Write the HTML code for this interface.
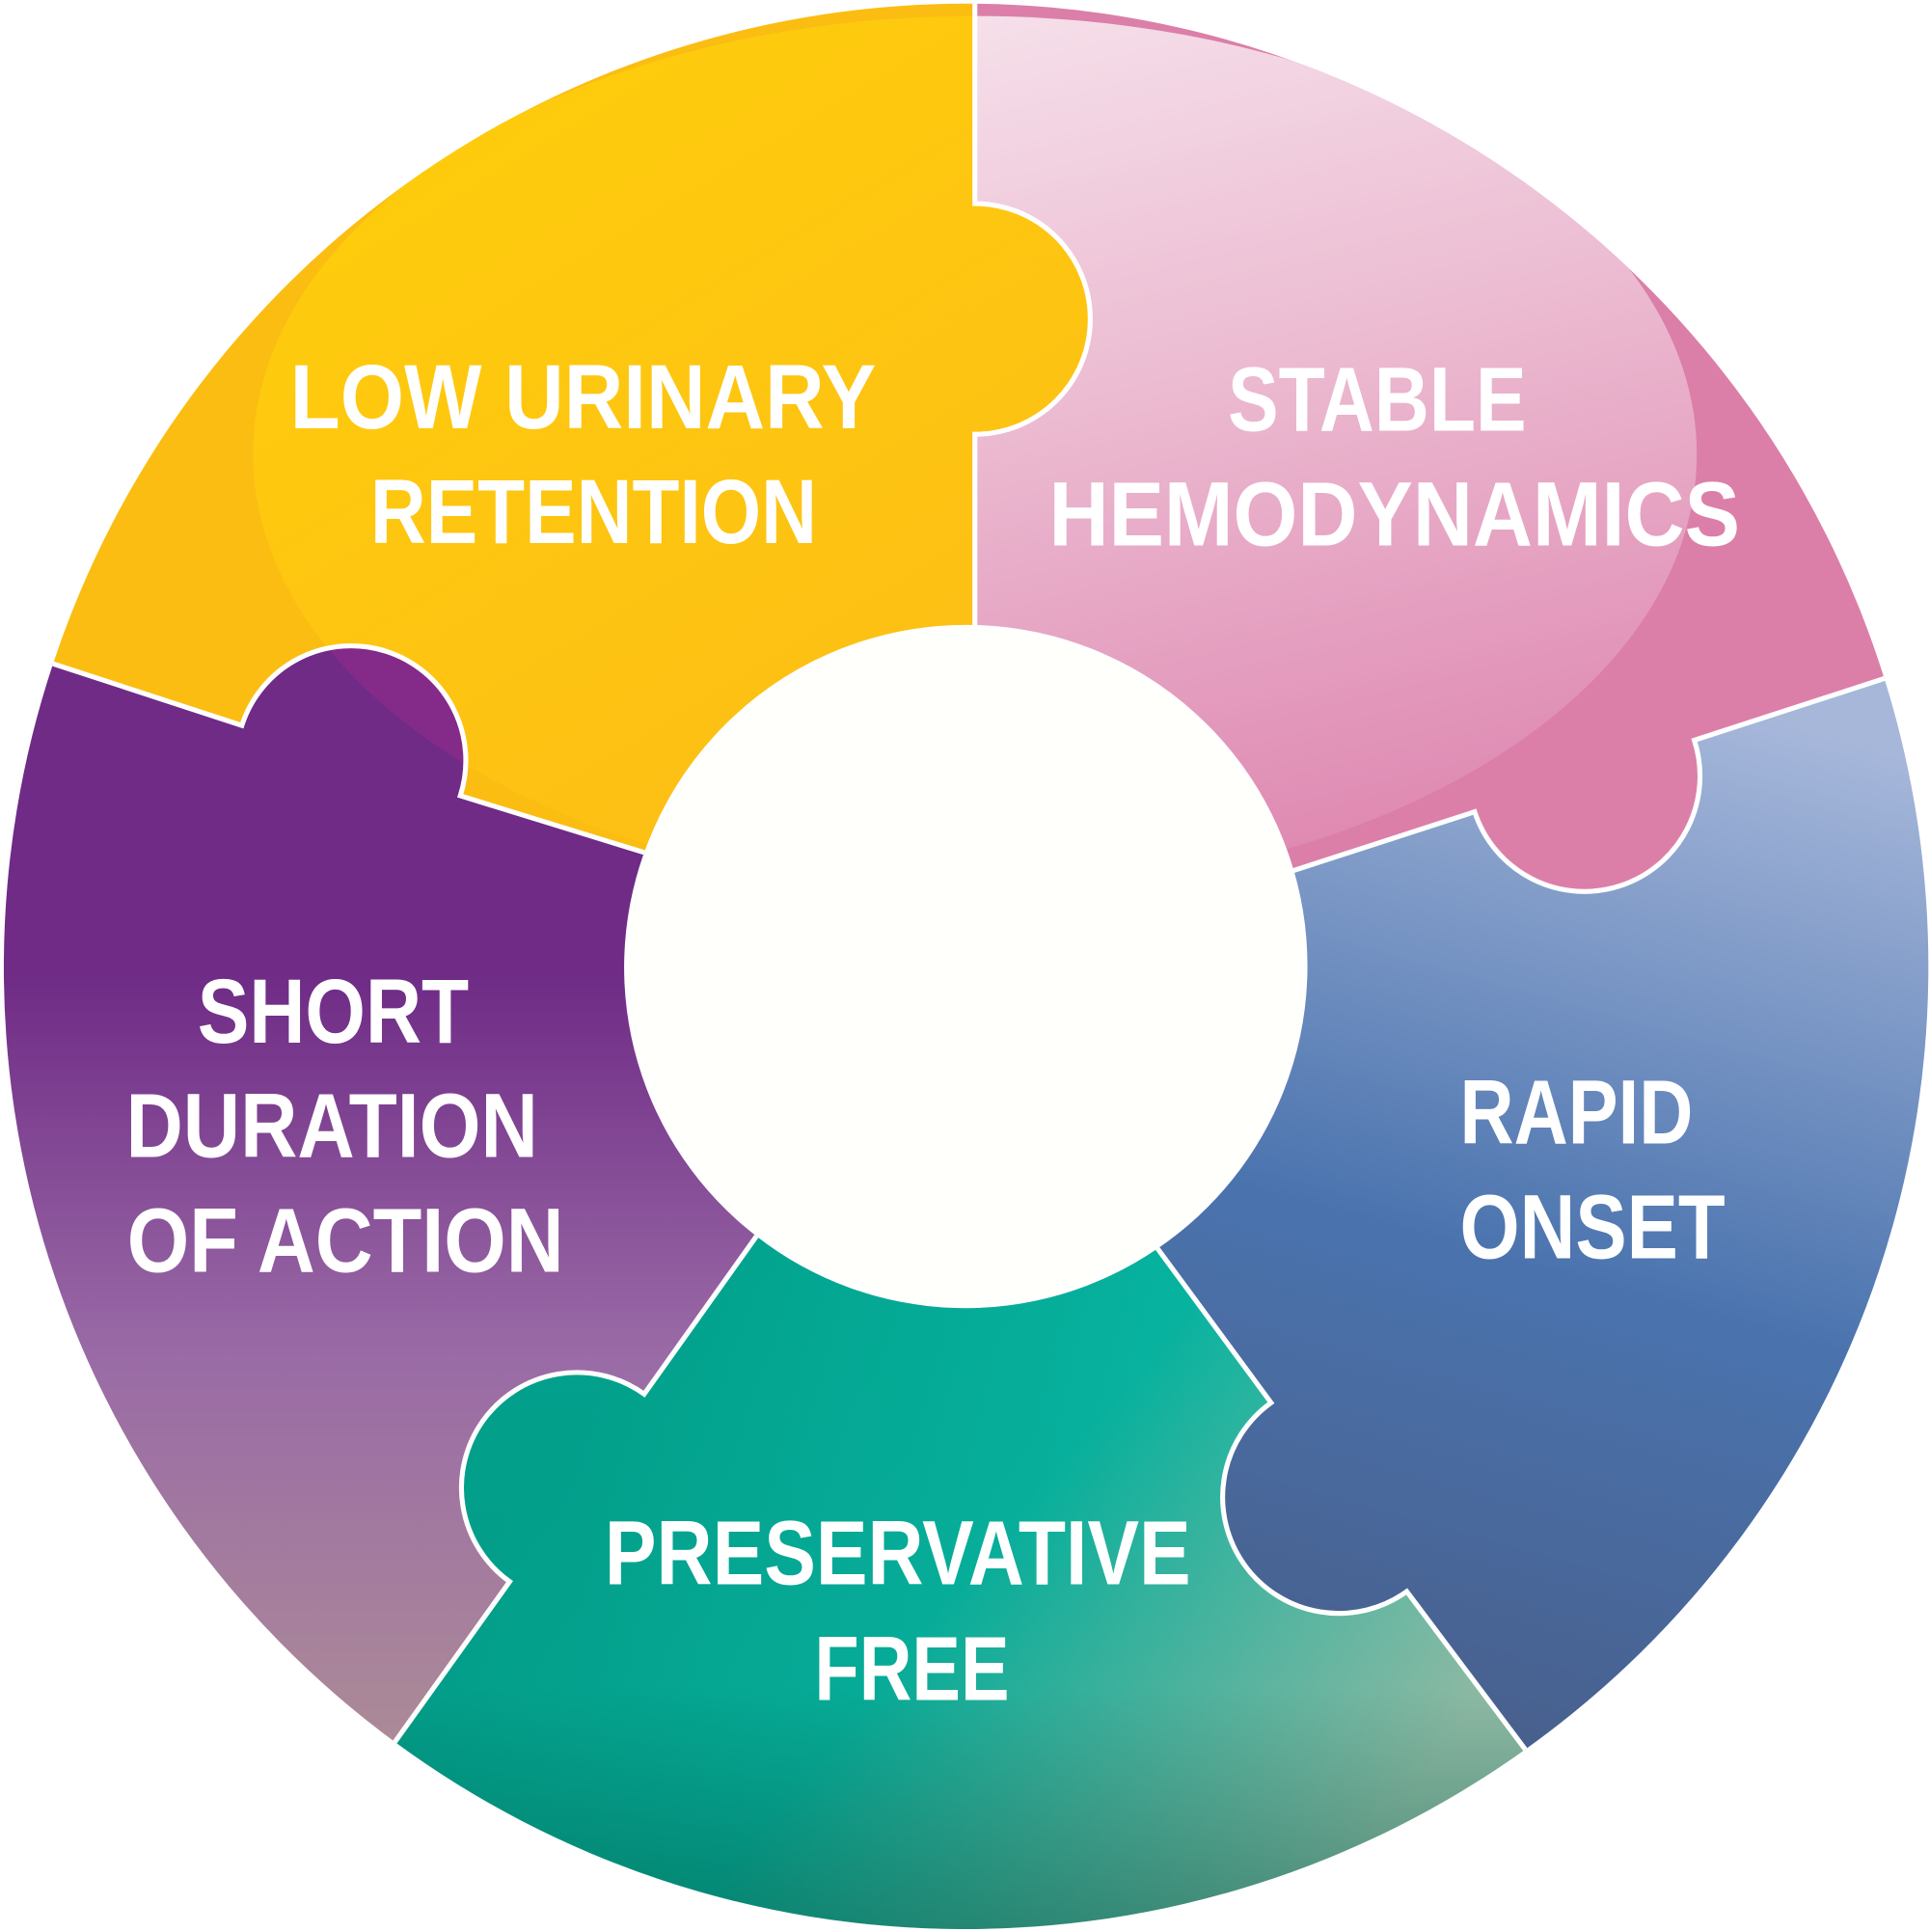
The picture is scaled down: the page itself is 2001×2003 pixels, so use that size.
<!DOCTYPE html>
<html><head><meta charset="utf-8"><style>
html,body{margin:0;padding:0;background:#fff;}
svg{display:block;}
text{font-family:"Liberation Sans",sans-serif;font-weight:bold;fill:#fff;font-size:74px;}
</style></head><body>
<svg width="2001" height="2003" viewBox="0 0 1564 1566" preserveAspectRatio="none" xmlns="http://www.w3.org/2000/svg">
<defs>
<linearGradient id="gy" x1="0" y1="0" x2="1" y2="1"><stop offset="0" stop-color="#fecf0a"/><stop offset="0.6" stop-color="#fdc014"/><stop offset="1" stop-color="#f8a41c"/></linearGradient>
<linearGradient id="gp" x1="0.2" y1="0" x2="0.6" y2="1"><stop offset="0" stop-color="#f8e9f0"/><stop offset="0.5" stop-color="#ecbcd2"/><stop offset="1" stop-color="#df8ab2"/></linearGradient>
<linearGradient id="gb" x1="0.6" y1="0" x2="0.4" y2="1"><stop offset="0" stop-color="#a6b7da"/><stop offset="0.55" stop-color="#4a73ae"/><stop offset="1" stop-color="#485f8c"/></linearGradient>
<linearGradient id="gg" x1="0.2" y1="0.2" x2="1" y2="0.6"><stop offset="0" stop-color="#02a38e"/><stop offset="0.45" stop-color="#07b4a0"/><stop offset="1" stop-color="#9fc4ae"/></linearGradient>
<linearGradient id="ggd" x1="0" y1="1000" x2="0" y2="1566" gradientUnits="userSpaceOnUse"><stop offset="0" stop-color="#005a48" stop-opacity="0"/><stop offset="0.65" stop-color="#005a48" stop-opacity="0.1"/><stop offset="1" stop-color="#005a48" stop-opacity="0.55"/></linearGradient>
<linearGradient id="gv" x1="0.5" y1="0.3" x2="0.5" y2="1"><stop offset="0" stop-color="#6f2b86"/><stop offset="0.5" stop-color="#9a6ba6"/><stop offset="1" stop-color="#ac8a97"/></linearGradient>
<clipPath id="cy"><path d="M790,3 L790,165 A90,90 0 1 1 790,352 L790,508 A275,275 0 0 0 522,691 L373,645 A90,90 0 1 0 196,588 L43,538 A780,780 0 0 1 790,3 Z"/></clipPath>
<clipPath id="cp"><path d="M790,3 A780,780 0 0 1 1527,550 L1373,600 A90,90 0 1 1 1195,658 L1047,706 A275,275 0 0 0 790,508 L790,352 A90,90 0 1 0 790,165 Z"/></clipPath>
<clipPath id="cv"><path d="M320,1412 A780,780 0 0 1 43,538 L196,588 A90,90 0 1 1 373,645 L522,691 A275,275 0 0 0 613,1002 L522,1130 A90,90 0 1 0 413,1282 Z"/></clipPath>
</defs>
<path d="M790,3 L790,165 A90,90 0 1 1 790,352 L790,508 A275,275 0 0 0 522,691 L373,645 A90,90 0 1 0 196,588 L43,538 A780,780 0 0 1 790,3 Z" fill="#fbbd12"/>
<g clip-path="url(#cy)"><ellipse cx="790" cy="368" rx="585" ry="355" fill="url(#gy)"/></g>
<path d="M790,3 A780,780 0 0 1 1527,550 L1373,600 A90,90 0 1 1 1195,658 L1047,706 A275,275 0 0 0 790,508 L790,352 A90,90 0 1 0 790,165 Z" fill="#db7fa9"/>
<g clip-path="url(#cp)"><ellipse cx="790" cy="368" rx="585" ry="355" fill="url(#gp)"/></g>
<path d="M1527,550 A780,780 0 0 1 1236,1418 L1140,1290 A90,90 0 1 1 1030,1137 L938,1012 A275,275 0 0 0 1047,706 L1195,658 A90,90 0 1 0 1373,600 Z" fill="url(#gb)"/>
<path d="M1236,1418 A780,780 0 0 1 320,1412 L413,1282 A90,90 0 1 1 522,1130 L613,1002 A275,275 0 0 0 938,1012 L1030,1137 A90,90 0 1 0 1140,1290 Z" fill="url(#gg)"/>
<path d="M1236,1418 A780,780 0 0 1 320,1412 L413,1282 A90,90 0 1 1 522,1130 L613,1002 A275,275 0 0 0 938,1012 L1030,1137 A90,90 0 1 0 1140,1290 Z" fill="url(#ggd)"/>
<path d="M320,1412 A780,780 0 0 1 43,538 L196,588 A90,90 0 1 1 373,645 L522,691 A275,275 0 0 0 613,1002 L522,1130 A90,90 0 1 0 413,1282 Z" fill="url(#gv)"/>
<g clip-path="url(#cv)"><ellipse cx="790" cy="368" rx="585" ry="355" fill="#882a89" opacity="0.85"/></g>
<g fill="none" stroke="#fff" stroke-width="4">
<path d="M790,3 L790,165 A90,90 0 1 1 790,352 L790,508"/>
<path d="M43,538 L196,588 A90,90 0 1 1 373,645 L522,691"/>
<path d="M1527,550 L1373,600 A90,90 0 1 1 1195,658 L1047,706"/>
<path d="M1236,1418 L1140,1290 A90,90 0 1 1 1030,1137 L938,1012"/>
<path d="M320,1412 L413,1282 A90,90 0 1 1 522,1130 L613,1002"/>
</g>
<circle cx="783" cy="783" r="275" fill="#fffffb" stroke="#fff" stroke-width="3"/>
<text x="235" y="347" textLength="475" lengthAdjust="spacingAndGlyphs">LOW URINARY</text>
<text x="300" y="440" textLength="362" lengthAdjust="spacingAndGlyphs">RETENTION</text>
<text x="995" y="349" textLength="242" lengthAdjust="spacingAndGlyphs">STABLE</text>
<text x="850" y="442" textLength="560" lengthAdjust="spacingAndGlyphs">HEMODYNAMICS</text>
<text x="1183" y="927" textLength="189" lengthAdjust="spacingAndGlyphs">RAPID</text>
<text x="1183" y="1020" textLength="215" lengthAdjust="spacingAndGlyphs">ONSET</text>
<text x="160" y="845" textLength="220" lengthAdjust="spacingAndGlyphs">SHORT</text>
<text x="102" y="938" textLength="334" lengthAdjust="spacingAndGlyphs">DURATION</text>
<text x="103" y="1031" textLength="354" lengthAdjust="spacingAndGlyphs">OF ACTION</text>
<text x="490" y="1284" textLength="475" lengthAdjust="spacingAndGlyphs">PRESERVATIVE</text>
<text x="660" y="1378" textLength="158" lengthAdjust="spacingAndGlyphs">FREE</text>
</svg>
</body></html>
